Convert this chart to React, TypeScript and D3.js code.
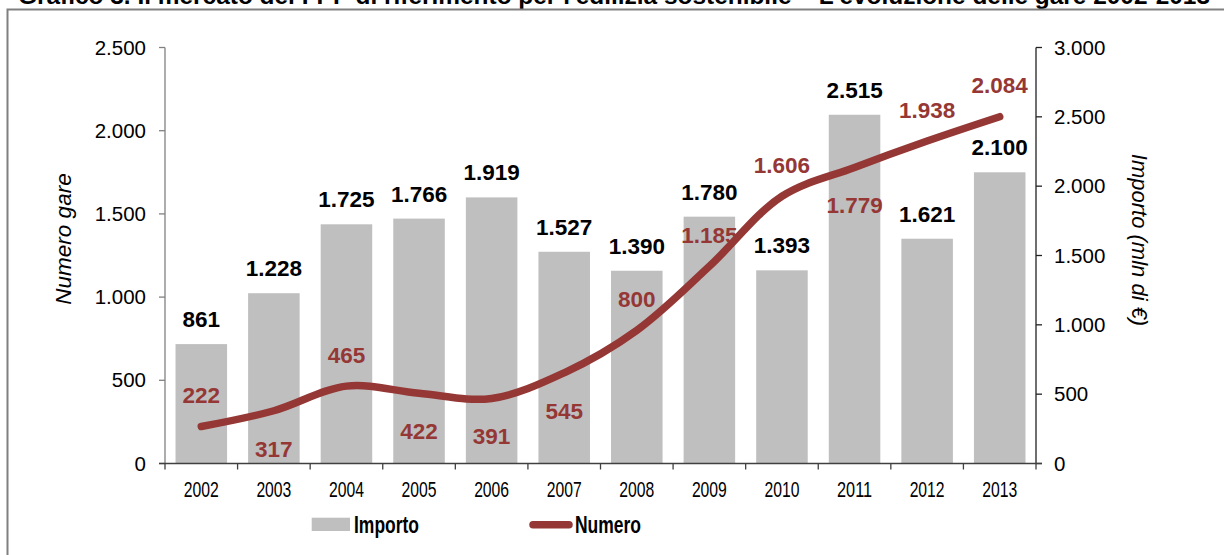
import React from "react";
import * as d3 from "d3";

const years = ["2002","2003","2004","2005","2006","2007","2008","2009","2010","2011","2012","2013"];
const importo = [861, 1228, 1725, 1766, 1919, 1527, 1390, 1780, 1393, 2515, 1621, 2100];
const numero = [222, 317, 465, 422, 391, 545, 800, 1185, 1606, 1779, 1938, 2084];
const numeroLabelPlacement = ["above","below","above","below","below","below","above","above","above","below","above","above"];
const leftTicks = [0, 500, 1000, 1500, 2000, 2500];
const rightTicks = [0, 500, 1000, 1500, 2000, 2500, 3000];
const title = "Grafico 3.  Il mercato del FPP di riferimento per l'edilizia sostenibile – L'evoluzione delle gare 2002-2013";

const W = 1224, H = 555;
const plotL = 165, plotR = 1036, plotT = 47.5, plotB = 463.5;
const barColor = "#bfbfbf";
const lineColor = "#953735";
const font = "'Liberation Sans', Arial, sans-serif";

const it = d3.formatLocale({ decimal: ",", thousands: ".", grouping: [3], currency: ["", "€"] });
const fmt = it.format(",d");

export default function App() {
  const x = d3.scaleBand<string>().domain(years).range([plotL, plotR]).paddingInner(0.29).paddingOuter(0.145);
  const yL = d3.scaleLinear().domain([0, 2500]).range([plotB, plotT]);
  const yR = d3.scaleLinear().domain([0, 3000]).range([plotB, plotT]);
  const cx = (y: string) => (x(y) as number) + x.bandwidth() / 2;
  const line = d3.line<number>()
    .x((_, i) => cx(years[i]))
    .y((d) => yL(d))
    .curve(d3.curveCatmullRom.alpha(0.5));
  const step = x.step();

  return (
    <svg width={W} height={H} style={{ position: "absolute", left: 0, top: 0, display: "block" }} fontFamily={font}>
      <rect x={0} y={0} width={W} height={H} fill="#fff" />
      <text x={18} y={4} fontSize={24} fontWeight="bold" textLength={1192} lengthAdjust="spacingAndGlyphs">{title}</text>
      <rect x={7.5} y={9.5} width={1230} height={620} fill="none" stroke="#808080" strokeWidth={2} />

      {/* bars */}
      {years.map((yr, i) => (
        <rect key={yr} x={x(yr)} y={yR(importo[i])} width={x.bandwidth()} height={plotB - yR(importo[i])} fill={barColor} />
      ))}

      {/* left axis */}
      <line x1={plotL} x2={plotL} y1={plotT} y2={plotB} stroke="#808080" strokeWidth={1.3} />
      {leftTicks.map((t) => (
        <g key={t}>
          <line x1={plotL - 6} x2={plotL} y1={yL(t)} y2={yL(t)} stroke="#808080" strokeWidth={1.3} />
          <text x={146} y={yL(t)} dy="0.35em" textAnchor="end" fontSize={20.5}>{fmt(t)}</text>
        </g>
      ))}
      {/* right axis */}
      <line x1={plotR} x2={plotR} y1={plotT} y2={plotB} stroke="#222" strokeWidth={1.3} />
      {rightTicks.map((t) => (
        <g key={t}>
          <line x1={plotR} x2={plotR + 6} y1={yR(t)} y2={yR(t)} stroke="#222" strokeWidth={1.3} />
          <text x={1054} y={yR(t)} dy="0.35em" textAnchor="start" fontSize={20.5}>{fmt(t)}</text>
        </g>
      ))}
      {/* x axis */}
      <line x1={plotL - 6} x2={plotR + 6} y1={plotB} y2={plotB} stroke="#404040" strokeWidth={1.3} />
      {d3.range(years.length + 1).map((k) => (
        <line key={k} x1={plotL + k * step} x2={plotL + k * step} y1={plotB} y2={plotB + 6} stroke="#404040" strokeWidth={1.3} />
      ))}
      {years.map((yr) => (
        <text key={yr} x={cx(yr)} y={497} textAnchor="middle" fontSize={22} textLength={35} lengthAdjust="spacingAndGlyphs">{yr}</text>
      ))}

      {/* line */}
      <path d={line(numero) || ""} fill="none" stroke={lineColor} strokeWidth={7.5} strokeLinecap="round" strokeLinejoin="round" />

      {/* bar labels */}
      {years.map((yr, i) => (
        <text key={yr} x={cx(yr)} y={yR(importo[i]) - 17} textAnchor="middle" fontSize={22.5} fontWeight="bold" fill="#000">{fmt(importo[i])}</text>
      ))}
      {/* line labels */}
      {years.map((yr, i) => (
        <text key={yr} x={cx(yr)} y={yL(numero[i]) + (numeroLabelPlacement[i] === "above" ? -23.5 : 46)} textAnchor="middle" fontSize={22.5} fontWeight="bold" fill={lineColor}>{fmt(numero[i])}</text>
      ))}

      {/* axis titles */}
      <text transform={`translate(71,239) rotate(-90)`} textAnchor="middle" fontSize={22.5} fontStyle="italic">Numero gare</text>
      <text transform={`translate(1132,240) rotate(90)`} textAnchor="middle" fontSize={22} fontStyle="italic">Importo (mln di €)</text>

      {/* legend */}
      <rect x={311.7} y={517.7} width={38.3} height={13.3} fill={barColor} />
      <text x={354} y={532.5} fontSize={23} fontWeight="bold" textLength={65} lengthAdjust="spacingAndGlyphs">Importo</text>
      <line x1={533} x2={569} y1={524.7} y2={524.7} stroke={lineColor} strokeWidth={7.5} strokeLinecap="round" />
      <text x={575} y={532.5} fontSize={23} fontWeight="bold" textLength={66} lengthAdjust="spacingAndGlyphs">Numero</text>
    </svg>
  );
}
